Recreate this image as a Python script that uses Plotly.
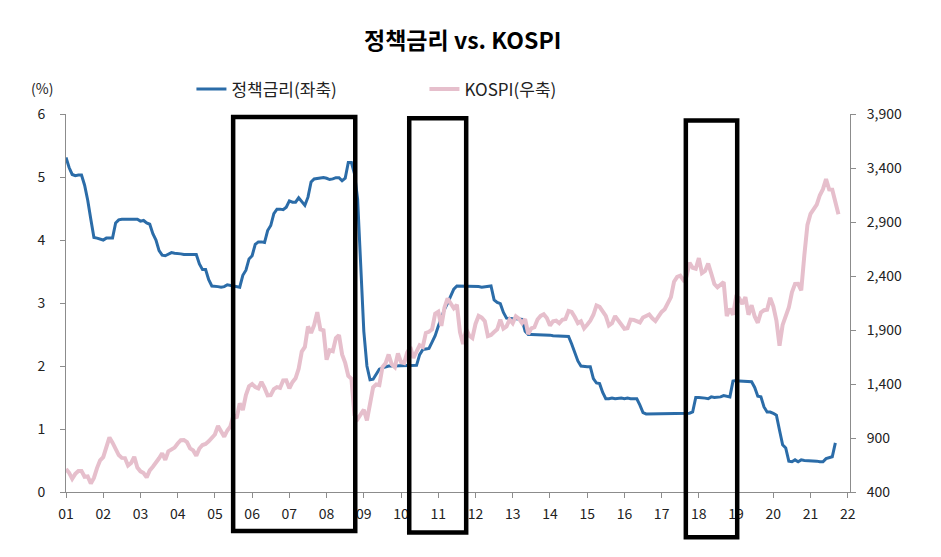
import numpy as np
import plotly.graph_objects as go

# monthly data, Jan 2001 onwards
policy_rate = [
    5.31, 5.15, 5.04, 5.02, 5.03, 5.03, 4.87, 4.63, 4.33, 4.04, 4.03, 4.02,  # 2001
    4.00, 4.03, 4.03, 4.03, 4.27, 4.32, 4.33, 4.33, 4.33, 4.34, 4.33, 4.33,  # 2002
    4.30, 4.31, 4.27, 4.25, 4.10, 4.00, 3.83, 3.76, 3.75, 3.78, 3.80, 3.79,  # 2003
    3.79, 3.78, 3.77, 3.77, 3.77, 3.77, 3.77, 3.62, 3.53, 3.53, 3.37, 3.27,  # 2004
    3.27, 3.26, 3.25, 3.26, 3.29, 3.28, 3.26, 3.25, 3.25, 3.44, 3.52, 3.70,  # 2005
    3.75, 3.93, 3.97, 3.97, 3.96, 4.15, 4.23, 4.42, 4.49, 4.49, 4.48, 4.52,  # 2006
    4.62, 4.60, 4.60, 4.67, 4.60, 4.55, 4.68, 4.92, 4.97, 4.98, 4.99, 4.99,  # 2007
    4.98, 4.96, 4.97, 4.99, 4.99, 4.94, 4.98, 5.23, 5.23, 5.05, 4.65, 3.55,  # 2008
    2.55, 2.00, 1.78, 1.79, 1.88, 1.95, 1.97, 1.99, 2.00, 2.00, 2.00, 2.00,  # 2009
    2.00, 2.00, 2.00, 2.00, 2.00, 2.01, 2.18, 2.26, 2.27, 2.28, 2.38, 2.48,  # 2010
    2.63, 2.78, 2.90, 3.00, 3.10, 3.22, 3.27, 3.27, 3.27, 3.27, 3.27, 3.27,  # 2011
    3.27, 3.26, 3.25, 3.26, 3.27, 3.27, 3.05, 3.01, 2.99, 2.85, 2.76, 2.75,  # 2012
    2.75, 2.75, 2.75, 2.74, 2.55, 2.50, 2.50, 2.50, 2.49, 2.49, 2.49, 2.49,  # 2013
    2.49, 2.48, 2.48, 2.48, 2.47, 2.47, 2.47, 2.35, 2.23, 2.08, 2.00, 1.99,  # 2014
    1.99, 1.99, 1.80, 1.73, 1.72, 1.58, 1.48, 1.48, 1.49, 1.48, 1.49, 1.49,  # 2015
    1.48, 1.49, 1.48, 1.48, 1.48, 1.38, 1.26, 1.24, 1.24, 1.24, 1.24, 1.24,  # 2016
    1.24, 1.24, 1.24, 1.24, 1.24, 1.24, 1.24, 1.24, 1.24, 1.25, 1.27, 1.50,  # 2017
    1.50, 1.50, 1.49, 1.48, 1.51, 1.50, 1.50, 1.51, 1.53, 1.52, 1.51, 1.76,  # 2018
    1.77, 1.76, 1.76, 1.76, 1.76, 1.75, 1.66, 1.52, 1.51, 1.35, 1.27, 1.27,  # 2019
    1.25, 1.22, 0.98, 0.75, 0.70, 0.49, 0.48, 0.51, 0.48, 0.51, 0.50, 0.50,  # 2020
    0.50, 0.49, 0.49, 0.48, 0.48, 0.53, 0.55, 0.56, 0.78,                    # 2021
]

kospi = [
    614, 577, 523, 568, 595, 595, 541, 545, 479, 531, 621, 693,  # 2001
    723, 810, 905, 857, 796, 742, 716, 714, 646, 669, 726, 627,  # 2002
    591, 575, 535, 600, 634, 670, 712, 759, 697, 776, 797, 811,  # 2003
    849, 880, 882, 863, 804, 785, 735, 803, 835, 845, 869, 896,  # 2004
    932, 1012, 966, 912, 970, 1008, 1111, 1084, 1221, 1159, 1297, 1379,  # 2005
    1399, 1372, 1359, 1419, 1364, 1295, 1297, 1352, 1371, 1364, 1433, 1434,  # 2006
    1360, 1417, 1453, 1542, 1700, 1743, 1933, 1873, 1946, 2065, 1906, 1897,  # 2007
    1625, 1712, 1704, 1825, 1853, 1674, 1595, 1474, 1448, 1113, 1076, 1124,  # 2008
    1162, 1063, 1206, 1369, 1396, 1390, 1557, 1591, 1673, 1581, 1555, 1683,  # 2009
    1602, 1594, 1693, 1741, 1641, 1698, 1759, 1743, 1873, 1883, 1905, 2051,  # 2010
    2069, 1939, 2107, 2192, 2142, 2101, 2133, 1880, 1770, 1909, 1848, 1826,  # 2011
    1956, 2030, 2014, 1982, 1844, 1854, 1881, 1906, 1996, 1913, 1933, 1997,  # 2012
    1962, 2027, 2005, 1964, 2001, 1863, 1915, 1926, 1997, 2030, 2045, 2011,  # 2013
    1941, 1980, 1986, 1962, 1995, 2002, 2076, 2068, 2020, 1964, 1981, 1916,  # 2014
    1949, 1986, 2041, 2127, 2114, 2074, 2030, 1941, 1963, 2029, 1992, 1961,  # 2015
    1912, 1917, 1996, 1994, 1983, 1970, 2016, 2035, 2044, 2008, 1983, 2026,  # 2016
    2068, 2092, 2160, 2205, 2347, 2392, 2403, 2363, 2394, 2523, 2476, 2467,  # 2017
    2566, 2427, 2446, 2515, 2423, 2326, 2295, 2323, 2343, 2030, 2097, 2041,  # 2018
    2205, 2195, 2141, 2204, 2041, 2130, 2025, 1967, 2063, 2083, 2087, 2198,  # 2019
    2119, 1987, 1755, 1947, 2030, 2108, 2249, 2326, 2327, 2267, 2591, 2873,  # 2020
    2976, 3013, 3061, 3148, 3204, 3297, 3202, 3199, 3069, 2971,              # 2021
]

years = list(range(2001, 2023))
year_labels = [f"{y % 100:02d}" for y in years]

# highlighted periods (start, end) in years
highlights = [(2005.49, 2008.77), (2010.22, 2011.75), (2017.65, 2019.03)]
box_bottoms = [-0.103, -0.107, -0.120]
box_tops = [0.992, 0.989, 0.983]

x_rate = 2001 + np.arange(len(policy_rate)) / 12
x_kospi = 2001 + np.arange(len(kospi)) / 12

font = "Noto Sans CJK KR"

fig = go.Figure()

fig.add_trace(go.Scatter(
    x=x_rate, y=policy_rate, mode="lines", name="정책금리(좌축)",
    line=dict(color="#2B6CA8", width=3),
))
fig.add_trace(go.Scatter(
    x=x_kospi, y=kospi, mode="lines", name="KOSPI(우축)", yaxis="y2",
    line=dict(color="#E6BFCC", width=4),
))

for (x0, x1), y0, y1 in zip(highlights, box_bottoms, box_tops):
    fig.add_shape(type="rect", xref="x", yref="paper", x0=x0, x1=x1, y0=y0, y1=y1,
                  line=dict(color="black", width=4.5), fillcolor="rgba(0,0,0,0)")

axis_line = "#8C8C8C"

# page body has an 8px margin, so the figure is a little smaller than the window
fig.update_layout(
    width=933, height=549,
    margin=dict(l=58, r=91, t=106, b=65),
    paper_bgcolor="white", plot_bgcolor="white",
    font=dict(family=font, size=14, color="#222222"),
    title=dict(text="<b>정책금리 vs. KOSPI</b>", font=dict(size=23, color="black"),
               x=0.506, xref="paper", y=0.940, yref="container",
               xanchor="center", yanchor="middle"),
    showlegend=True,
    legend=dict(orientation="h", x=0.160, xanchor="left", y=1.065, yanchor="middle",
                font=dict(size=17, color="#222222"), entrywidth=188,
                entrywidthmode="pixels", bgcolor="rgba(0,0,0,0)"),
    xaxis=dict(range=[2001, 2022.06], tickvals=years, ticktext=year_labels,
               showgrid=False, zeroline=False, showline=True, linecolor=axis_line,
               ticks="outside", ticklen=5, tickcolor=axis_line, ticklabelstandoff=4,
               tickfont=dict(size=14)),
    yaxis=dict(range=[0, 6], dtick=1, showgrid=False, zeroline=False, showline=True,
               linecolor=axis_line, ticks="outside", ticklen=5, tickcolor=axis_line,
               ticklabelstandoff=12, tickfont=dict(size=14)),
    yaxis2=dict(range=[400, 3900], tick0=400, dtick=500, tickformat=",", overlaying="y",
                side="right", showgrid=False, zeroline=False, showline=True,
                linecolor=axis_line, ticks="outside", ticklen=5, tickcolor=axis_line,
                ticklabelstandoff=8, tickfont=dict(size=14)),
)

fig.add_annotation(text="(%)", xref="paper", yref="paper", x=-0.0306, y=1.069,
                   showarrow=False, font=dict(size=14), xanchor="center", yanchor="middle")

fig.write_html("out.html")
